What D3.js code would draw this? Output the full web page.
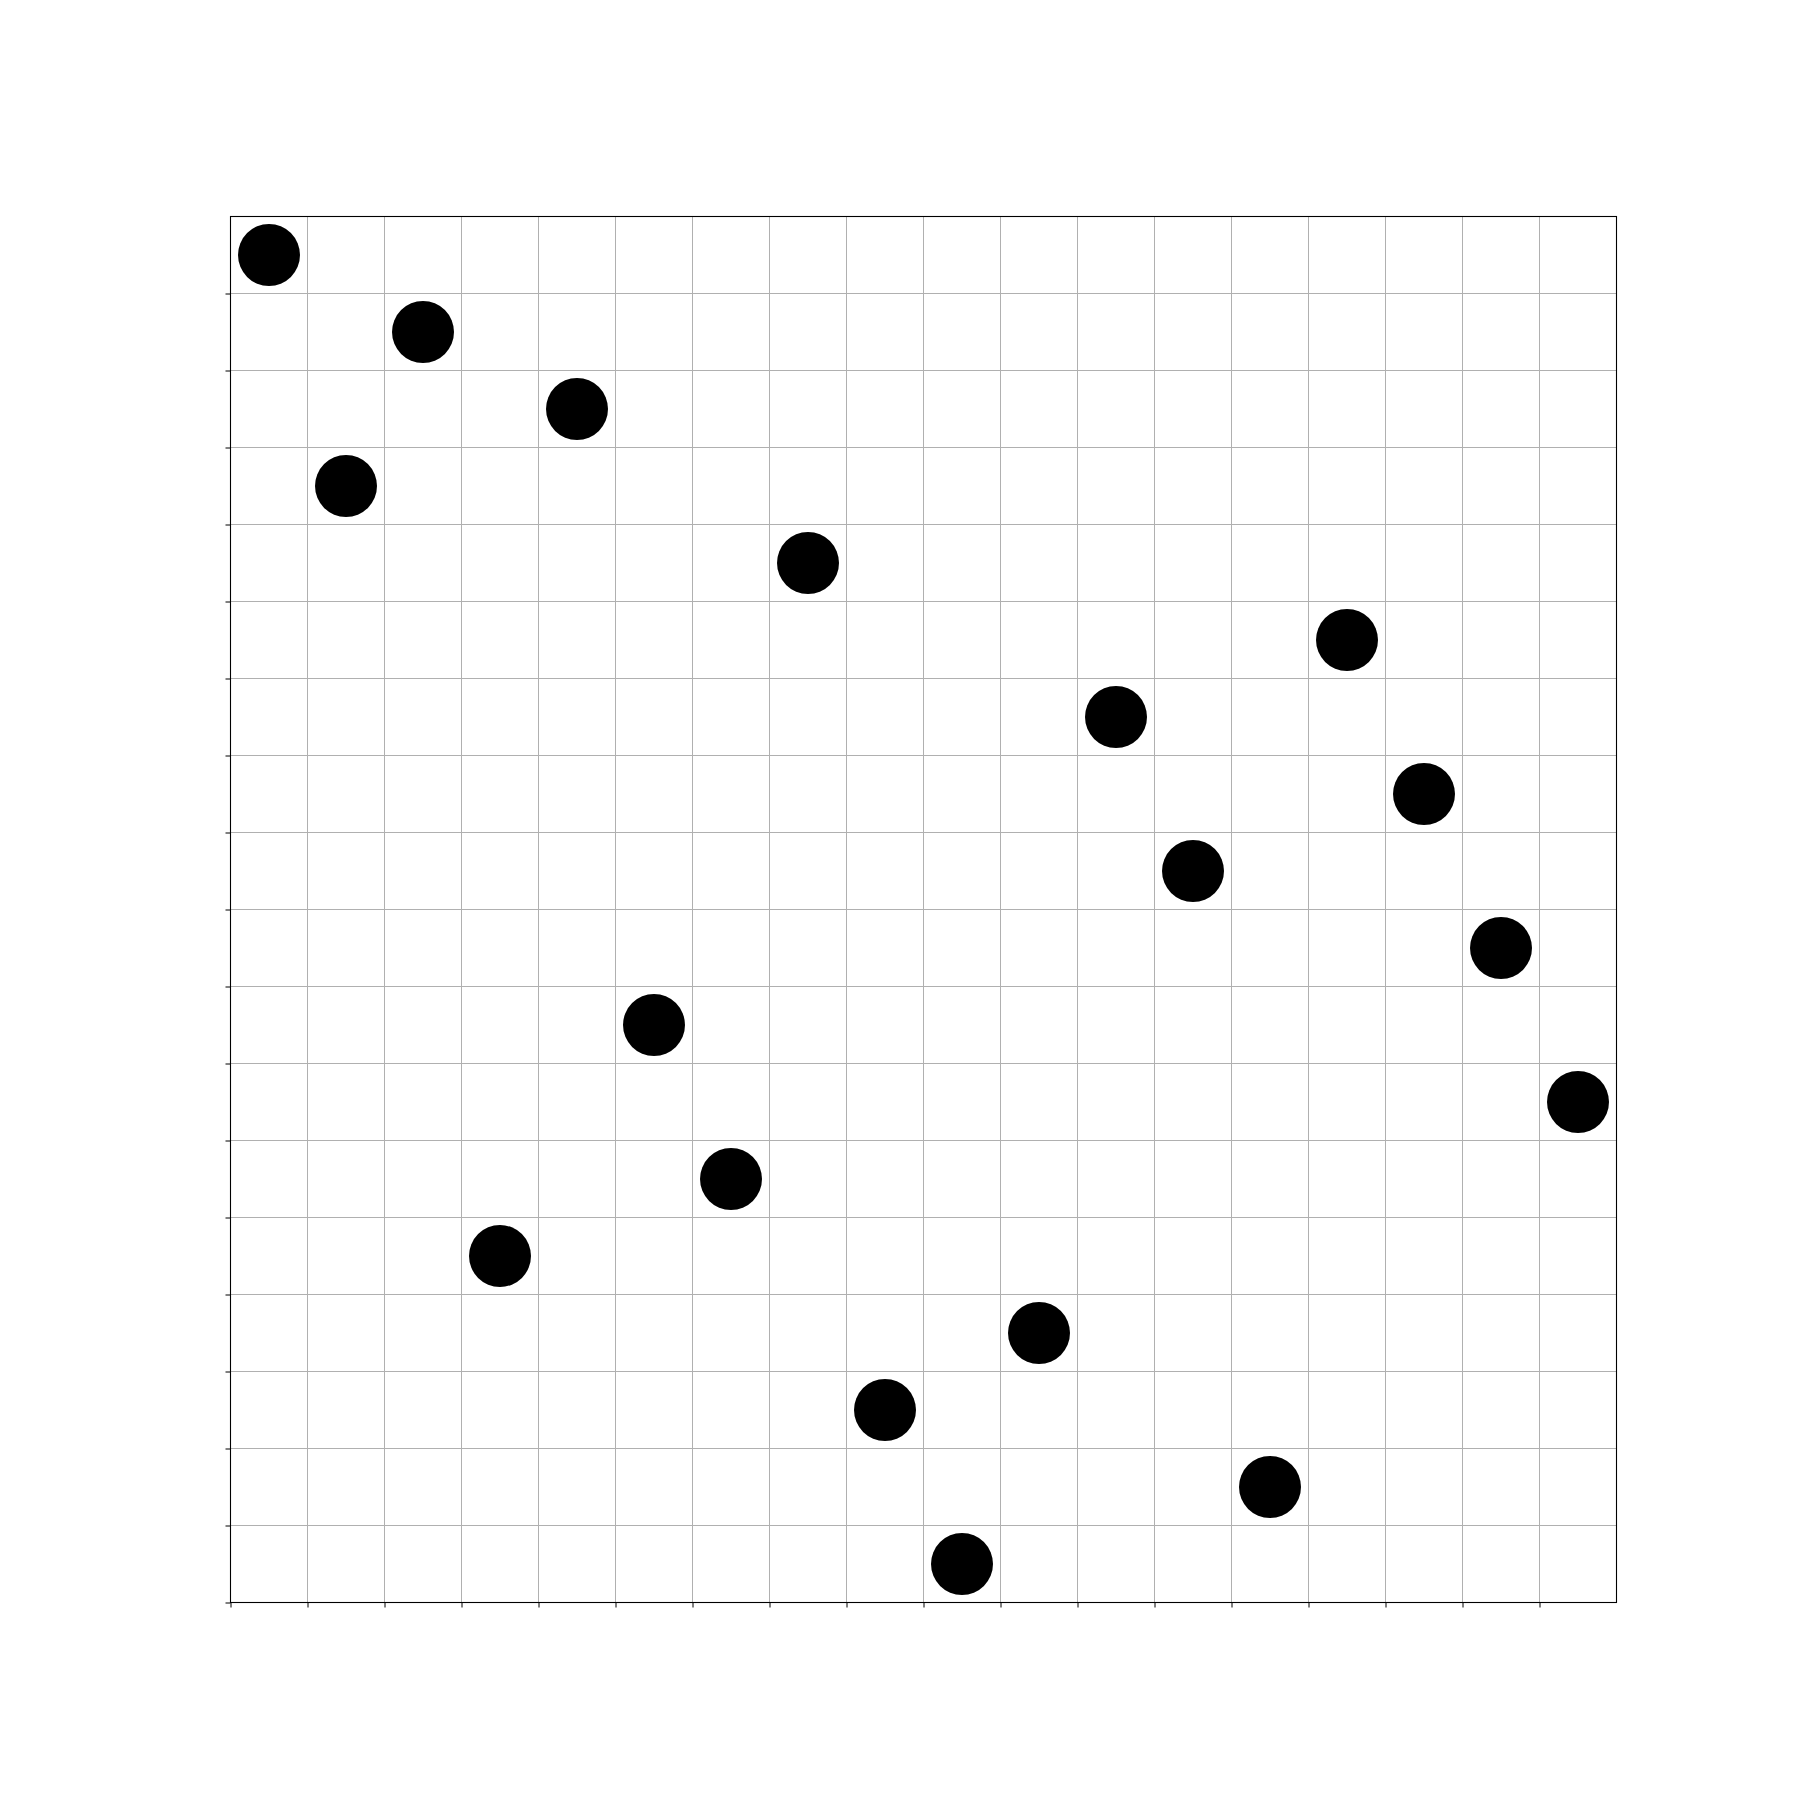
<!DOCTYPE html>
<html><head><meta charset="utf-8">
<script src="https://cdn.jsdelivr.net/npm/d3@7"></script>
<style>body{margin:0;background:#fff}</style>
</head><body>
<script>
const columns = d3.range(18);
const rows = [17,14,16,4,15,7,5,13,2,0,3,11,9,1,12,10,8,6];
const tickValues = d3.range(18);

(function(){
const W = 1800, H = 1800;
const pL = 230.5, pR = 1616.5, pT = 216.5, pB = 1602.5;
const svg = d3.select("body").append("svg").attr("width", W).attr("height", H);
const x = d3.scaleLinear().domain([0,18]).range([pL,pR]);
const y = d3.scaleLinear().domain([0,18]).range([pB,pT]);

const g = svg.append("g");
g.selectAll(".gx").data(tickValues).enter().append("line")
  .attr("x1", d=>x(d)).attr("x2", d=>x(d)).attr("y1", pT).attr("y2", pB)
  .attr("stroke", "#b0b0b0").attr("stroke-width", 1);
g.selectAll(".gy").data(tickValues).enter().append("line")
  .attr("y1", d=>y(d)).attr("y2", d=>y(d)).attr("x1", pL).attr("x2", pR)
  .attr("stroke", "#b0b0b0").attr("stroke-width", 1);

const pts = columns.map((c,i)=>({x:c+0.5, y:rows[i]+0.5}));
g.selectAll("circle").data(pts).enter().append("circle")
  .attr("cx", d=>x(d.x)).attr("cy", d=>y(d.y)).attr("r", 31)
  .attr("fill", "#000");

const xAxis = d3.axisBottom(x).tickValues(tickValues).tickSize(5).tickFormat("");
const yAxis = d3.axisLeft(y).tickValues(tickValues).tickSize(5).tickFormat("");
const ax = svg.append("g").attr("transform", `translate(0,${pB})`).call(xAxis);
const ay = svg.append("g").attr("transform", `translate(${pL},0)`).call(yAxis);
[ax, ay].forEach(a => { a.select(".domain").remove(); a.selectAll("line").attr("stroke","#000").attr("stroke-width",1); });

svg.append("rect").attr("x", pL).attr("y", pT).attr("width", pR-pL).attr("height", pB-pT)
  .attr("fill","none").attr("stroke","#000").attr("stroke-width",1.1);
})();
</script>
</body></html>
